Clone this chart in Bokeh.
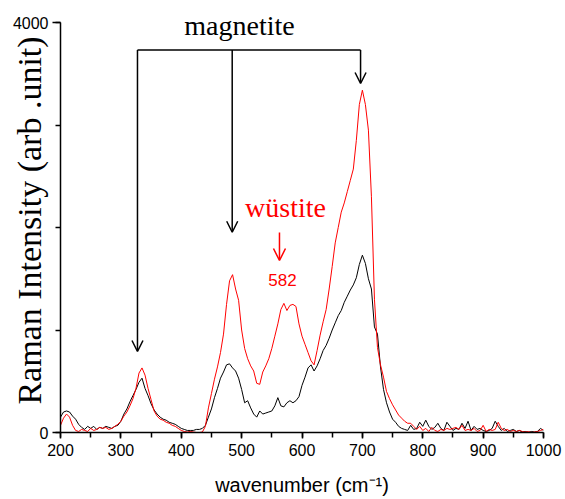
import math
from bokeh.plotting import figure
from bokeh.models import Label, Arrow, OpenHead, SingleIntervalTicker, Range1d, ColumnDataSource
from bokeh.embed import file_html
from bokeh.resources import INLINE

# wavenumber grid (cm^-1), step 5
wavenumber = list(range(200, 1005, 5))

# red spectrum (with wüstite)
intensity_red = [
    70, 140, 180, 150, 70, 20, 10, 30, 20, 10,          # 200-245
    40, 20, 30, 50, 40, 50, 30, 40, 60, 80,             # 250-295
    110, 160, 200, 260, 330, 430, 580, 630, 560, 430,   # 300-345
    320, 210, 160, 130, 120, 100, 90, 70, 60, 40,       # 350-395
    20, 10, 5, 10, 5, 0, 0, 5, 60, 240,                 # 400-445
    380, 520, 640, 780, 960, 1250, 1480, 1540, 1400, 1290,  # 450-495
    1000, 820, 720, 650, 600, 480, 470, 590, 650, 720,  # 500-545
    820, 940, 1060, 1200, 1260, 1190, 1240, 1250, 1230, 1060,  # 550-595
    940, 860, 780, 700, 660, 800, 950, 1080, 1200, 1400,  # 600-645
    1620, 1850, 2000, 2150, 2240, 2350, 2460, 2570, 2850, 3200,  # 650-695
    3340, 3200, 2950, 2300, 1300, 830, 660, 540, 400, 330,  # 700-745
    270, 220, 170, 140, 110, 90, 90, 60, 30, 60,        # 750-795
    20, 40, 10, 50, 20, 10, 30, 20, 40, 30,             # 800-845
    40, 50, 30, 70, 20, 30, 20, 40, 10, 20,             # 850-895
    70, 10, 30, 20, 30, 100, 40, 20, 30, 10,            # 900-945
    20, 10, 20, 10, 5, 10, 0, 5, 10, 20,                # 950-995
    30,                                                 # 1000
]

# black spectrum
intensity_black = [
    150, 200, 210, 200, 160, 130, 80, 50, 30, 60,       # 200-245
    40, 60, 30, 50, 40, 60, 50, 40, 60, 70,             # 250-295
    110, 180, 230, 300, 360, 420, 490, 530, 430, 360,   # 300-345
    280, 220, 180, 150, 130, 120, 100, 90, 80, 60,      # 350-395
    40, 30, 20, 20, 20, 30, 30, 40, 70, 150,            # 400-445
    230, 340, 430, 530, 590, 660, 670, 630, 600, 530,   # 450-495
    420, 290, 310, 240, 180, 150, 210, 180, 190, 200,   # 500-545
    210, 260, 340, 260, 250, 290, 310, 290, 310, 350,   # 550-595
    460, 540, 630, 660, 600, 650, 720, 800, 850, 920,   # 600-645
    1000, 1070, 1140, 1190, 1270, 1330, 1390, 1440, 1510, 1640,  # 650-695
    1730, 1650, 1500, 1400, 1030, 960, 640, 420, 290, 200,  # 700-745
    130, 100, 60, 40, 30, 20, 70, 30, 40, 100,          # 750-795
    60, 120, 60, 30, 50, 90, 40, 20, 100, 60,           # 800-845
    20, 40, 30, 90, 40, 110, 20, 60, 30, 40,            # 850-895
    20, 10, 20, 40, 110, 60, 20, 40, 10, 20,            # 900-945
    30, 10, 20, 5, 10, 0, 10, 5, 10, 40,                # 950-995
    20,                                                 # 1000
]

x_ticks_interval = 100
y_axis_max = 4000
magnetite_peaks = [327.5, 484.4, 697.0]
magnetite_tips = [790, 1954, 3405]
bracket_level = 3732
wustite_arrow_x = 562.7

src = ColumnDataSource(data=dict(x=wavenumber, red=intensity_red, black=intensity_black))

# y range extends a little above 4000 so the "magnetite" label is not clipped;
# the axis itself is bounded to 0-4000
p = figure(width=565, height=499, output_backend="svg", toolbar_location=None,
           x_range=Range1d(200, 1000), y_range=Range1d(0, 4137),
           min_border_left=60, min_border_right=22, min_border_top=8, min_border_bottom=67)
p.background_fill_color = "white"
p.border_fill_color = "white"
p.outline_line_color = None
p.xgrid.visible = False
p.ygrid.visible = False

p.line("x", "black", source=src, line_color="black", line_width=1)
p.line("x", "red", source=src, line_color="#ff0000", line_width=1)

xa = p.xaxis[0]
xa.ticker = SingleIntervalTicker(interval=x_ticks_interval, num_minor_ticks=2)
ya = p.yaxis[0]
ya.ticker = SingleIntervalTicker(interval=y_axis_max, num_minor_ticks=4)
ya.bounds = (0, y_axis_max)
for ax in (xa, ya):
    ax.axis_line_width = 1.5
    ax.axis_line_color = "black"
    ax.major_tick_line_color = "black"
    ax.minor_tick_line_color = "black"
    ax.major_tick_line_width = 1.5
    ax.minor_tick_line_width = 1.5
    ax.major_tick_in = 0
    ax.minor_tick_in = 0
    ax.major_label_text_font = "Liberation Sans"
    ax.major_label_text_font_size = "16px"
    ax.major_label_text_color = "black"
    ax.axis_label_text_font_style = "normal"
    ax.axis_label_text_color = "black"
xa.major_tick_out = 6
xa.minor_tick_out = 5
xa.major_label_standoff = 5
ya.major_tick_out = 8
ya.minor_tick_out = 5
ya.major_label_standoff = 4

xa.axis_label = "wavenumber (cm⁻¹)"
xa.axis_label_text_font = "Liberation Sans"
xa.axis_label_text_font_size = "20px"
xa.axis_label_standoff = 15

ya.axis_label = "Raman Intensity (arb .unit)"
ya.axis_label_text_font = "Liberation Serif"
ya.axis_label_text_font_size = "34px"
ya.axis_label_standoff = -38

# magnetite bracket
p.add_layout(Arrow(end=None, x_start=magnetite_peaks[0], y_start=bracket_level,
                   x_end=magnetite_peaks[2], y_end=bracket_level, line_width=1.5, line_color="black"))
for xp, tip in zip(magnetite_peaks, magnetite_tips):
    p.add_layout(Arrow(end=OpenHead(size=11, line_width=1.5, line_color="black"),
                       x_start=xp, y_start=bracket_level, x_end=xp, y_end=tip,
                       line_width=1.5, line_color="black"))
p.add_layout(Label(x=496.5, y=3975, text="magnetite", text_font="Liberation Serif",
                   text_font_size="28px", text_color="black", text_align="center",
                   text_baseline="alphabetic"))

# wüstite annotation
p.add_layout(Label(x=572.7, y=2195, text="wüstite", text_font="Liberation Serif",
                   text_font_size="28px", text_color="#ff0000", text_align="center",
                   text_baseline="alphabetic"))
p.add_layout(Arrow(end=OpenHead(size=12, line_width=1.5, line_color="#ff0000"),
                   x_start=wustite_arrow_x, y_start=1951, x_end=wustite_arrow_x, y_end=1678,
                   line_width=1.5, line_color="#ff0000"))
p.add_layout(Label(x=567.7, y=1486, text="582", text_font="Liberation Sans",
                   text_font_size="17px", text_color="#ff0000", text_align="center",
                   text_baseline="alphabetic"))

open("out.html", "w").write(file_html(p, INLINE))
